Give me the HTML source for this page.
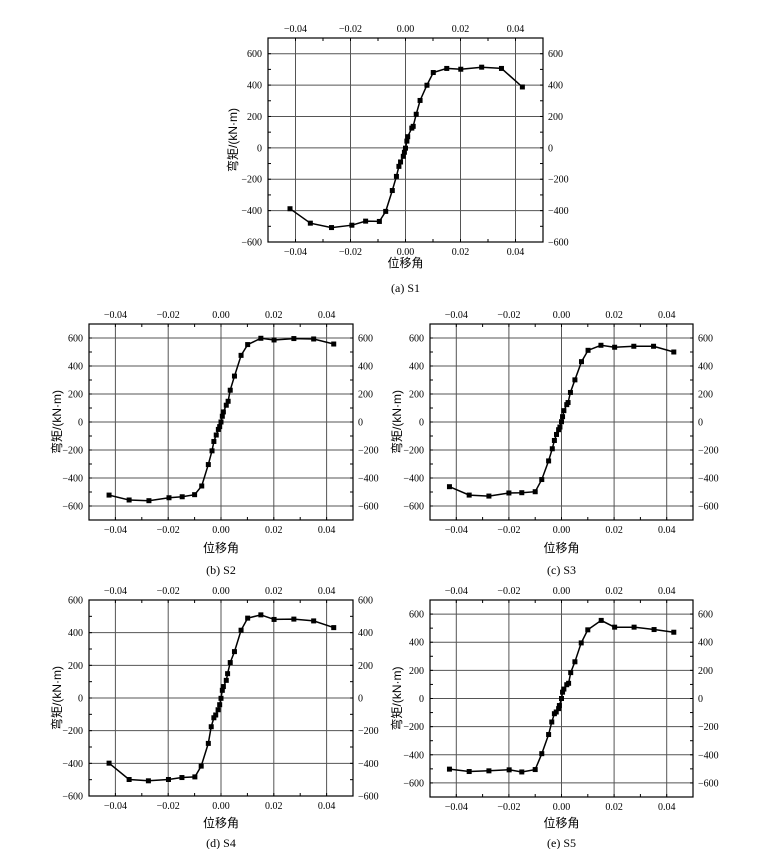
<!DOCTYPE html>
<html><head><meta charset="utf-8">
<style>
html,body{margin:0;padding:0;background:#fff;}
svg{display:block;}
text{font-family:"Liberation Serif","Noto Serif CJK SC",serif;fill:#000;}
.cjk{font-family:"Liberation Sans","Noto Sans CJK SC",sans-serif;}
</style></head>
<body>
<svg id="fig" width="768" height="849" viewBox="0 0 768 849" xmlns="http://www.w3.org/2000/svg"></svg>
<script>
// ---- data (drift angle, moment kN·m) ----
const s1X=[-0.042,-0.0346,-0.0269,-0.0195,-0.0145,-0.0095,-0.0072,-0.0048,-0.0033,-0.0024,-0.0018,-0.0008,-0.0004,0,0.0005,0.0008,0.0023,0.0028,0.0039,0.0053,0.0078,0.0101,0.015,0.0201,0.0277,0.0349,0.0425];
const s1Y=[-388,-480,-508,-493,-467,-469,-405,-272,-182,-118,-90,-54,-28,-2,43,71,126,137,214,302,399,480,506,501,514,506,388];
const s2X=[-0.0424,-0.0348,-0.0273,-0.0197,-0.0147,-0.01,-0.0073,-0.0048,-0.0034,-0.0027,-0.0018,-0.001,-0.0005,0,0.0005,0.0009,0.002,0.0027,0.0035,0.0051,0.0076,0.0101,0.0151,0.0201,0.0276,0.0351,0.0427];
const s2Y=[-522,-557,-562,-541,-534,-519,-457,-304,-206,-139,-93,-53,-33,0,41,72,120,148,227,328,476,553,598,586,596,593,557];
const s3X=[-0.0426,-0.0351,-0.0276,-0.02,-0.0151,-0.01,-0.0075,-0.0049,-0.0035,-0.0027,-0.0019,-0.0011,-0.0006,0,0.0004,0.0009,0.002,0.0025,0.0034,0.0051,0.0076,0.0101,0.015,0.0202,0.0275,0.035,0.0427];
const s3Y=[-462,-522,-529,-507,-505,-498,-411,-278,-191,-132,-89,-55,-36,2,38,81,124,139,211,301,431,512,548,534,541,541,500];
const s4X=[-0.0424,-0.0348,-0.0275,-0.0199,-0.0148,-0.0099,-0.0075,-0.0048,-0.0037,-0.0027,-0.002,-0.0011,-0.0005,0,0.0005,0.0009,0.002,0.0025,0.0035,0.0051,0.0076,0.0101,0.0151,0.0201,0.0276,0.0351,0.0427];
const s4Y=[-399,-499,-507,-499,-487,-483,-417,-278,-176,-121,-104,-72,-41,-2,47,70,108,149,217,284,415,489,509,481,483,472,431];
const s5X=[-0.0426,-0.0351,-0.0276,-0.0199,-0.0151,-0.01,-0.0075,-0.0049,-0.0037,-0.0027,-0.002,-0.0011,-0.0008,0,0.0004,0.0009,0.002,0.0027,0.0035,0.0051,0.0075,0.01,0.0151,0.0202,0.0276,0.0352,0.0427];
const s5Y=[-502,-519,-514,-507,-522,-505,-392,-256,-167,-108,-96,-72,-50,0,45,67,98,108,184,261,395,488,555,507,507,490,471];
const xTickLabels=["\u22120.04","\u22120.02","0.00","0.02","0.04"];
const xTickValues=[-0.04,-0.02,0,0.02,0.04];
const yTickValues=[-600,-400,-200,0,200,400,600];
const captions=["(a) S1","(b) S2","(c) S3","(d) S4","(e) S5"];

const NS="http://www.w3.org/2000/svg";
const svg=document.getElementById('fig');
function mk(tag,attrs,parent){const e=document.createElementNS(NS,tag);for(const k in attrs)e.setAttribute(k,attrs[k]);(parent||svg).appendChild(e);return e;}
function fmtY(v){return v<0?"\u2212"+(-v):String(v);}

const panels=[
 {id:'s1',L:268,R:543,T:38,B:242,ymin:-600,ymax:700,xs:s1X,ys:s1Y,yl:233,xl:263,cap:288},
 {id:'s2',L:89,R:353,T:324,B:520,ymin:-700,ymax:700,xs:s2X,ys:s2Y,yl:57,xl:548,cap:570},
 {id:'s3',L:430,R:693,T:324,B:520,ymin:-700,ymax:700,xs:s3X,ys:s3Y,yl:397,xl:548,cap:570},
 {id:'s4',L:89,R:353,T:600,B:796,ymin:-600,ymax:600,xs:s4X,ys:s4Y,yl:57,xl:823,cap:843},
 {id:'s5',L:430,R:693,T:600,B:797,ymin:-700,ymax:700,xs:s5X,ys:s5Y,yl:397,xl:823,cap:843}
];

panels.forEach((p,i)=>{
  const g=mk('g',{});
  
  
  const sx=v=>p.L+(v+0.05)/0.1*(p.R-p.L);
  const sy=v=>p.B-(v-p.ymin)/(p.ymax-p.ymin)*(p.B-p.T);
  // grid
  xTickValues.forEach(v=>{
    const l=mk('line',{x1:sx(v),x2:sx(v),y1:p.T,y2:p.B,stroke:'#555','stroke-width':1},g);
    
    
  });
  yTickValues.forEach(v=>{
    if(v<=p.ymin||v>=p.ymax)return;
    const l=mk('line',{x1:p.L,x2:p.R,y1:sy(v),y2:sy(v),stroke:'#555','stroke-width':1},g);
    
    
  });
  // minor ticks
  for(let v=-0.05;v<=0.0501;v+=0.01){
    const x=sx(v);
    mk('line',{x1:x,x2:x,y1:p.B,y2:p.B-3,stroke:'#000'},g);
    mk('line',{x1:x,x2:x,y1:p.T,y2:p.T+3,stroke:'#000'},g);
  }
  for(let v=p.ymin;v<=p.ymax;v+=100){
    const y=sy(v);
    mk('line',{x1:p.L,x2:p.L+3,y1:y,y2:y,stroke:'#000'},g);
    mk('line',{x1:p.R,x2:p.R-3,y1:y,y2:y,stroke:'#000'},g);
  }
  // frame
  const fr=mk('rect',{x:p.L,y:p.T,width:p.R-p.L,height:p.B-p.T,fill:'none',stroke:'#000','stroke-width':1.2},g);
  
  
  // x tick labels
  xTickValues.forEach((v,k)=>{
    const b=mk('text',{x:sx(v),y:p.B+13,'text-anchor':'middle','font-size':10},g);
    b.textContent=xTickLabels[k];
    
    
    const t=mk('text',{x:sx(v),y:p.T-6,'text-anchor':'middle','font-size':10},g);
    t.textContent=xTickLabels[k];
    
    
  });
  yTickValues.forEach(v=>{
    if(v<p.ymin||v>p.ymax)return;
    const a=mk('text',{x:p.L-6,y:sy(v)+3.5,'text-anchor':'end','font-size':10},g);
    a.textContent=fmtY(v);
    
    
    const b=mk('text',{x:p.R+5,y:sy(v)+3.5,'text-anchor':'start','font-size':10},g);
    b.textContent=fmtY(v);
    
    
  });
  // axis titles
  const cy=(p.T+p.B)/2;
  const yt=mk('text',{x:p.yl,y:cy,'text-anchor':'middle','font-size':12,class:'cjk',transform:`rotate(-90 ${p.yl} ${cy})`,dy:4},g);
  yt.textContent='弯矩/(kN·m)';
  
  
  const cx=(p.L+p.R)/2;
  const xt=mk('text',{x:cx,y:p.xl+4,'text-anchor':'middle','font-size':12,class:'cjk'},g);
  xt.textContent='位移角';
  
  
  const cp=mk('text',{x:cx,y:p.cap+4,'text-anchor':'middle','font-size':12},g);
  cp.textContent=captions[i];
  
  
  // series
  const pts=p.xs.map((x,k)=>sx(x).toFixed(1)+','+sy(p.ys[k]).toFixed(1)).join(' ');
  const pl=mk('polyline',{points:pts,fill:'none',stroke:'#000','stroke-width':1.5},g);
  
  
  p.xs.forEach((x,k)=>{
    const m=mk('rect',{x:sx(x)-2.5,y:sy(p.ys[k])-2.5,width:5,height:5,fill:'#000'},g);
    
    
  });
});
</script>
</body></html>
